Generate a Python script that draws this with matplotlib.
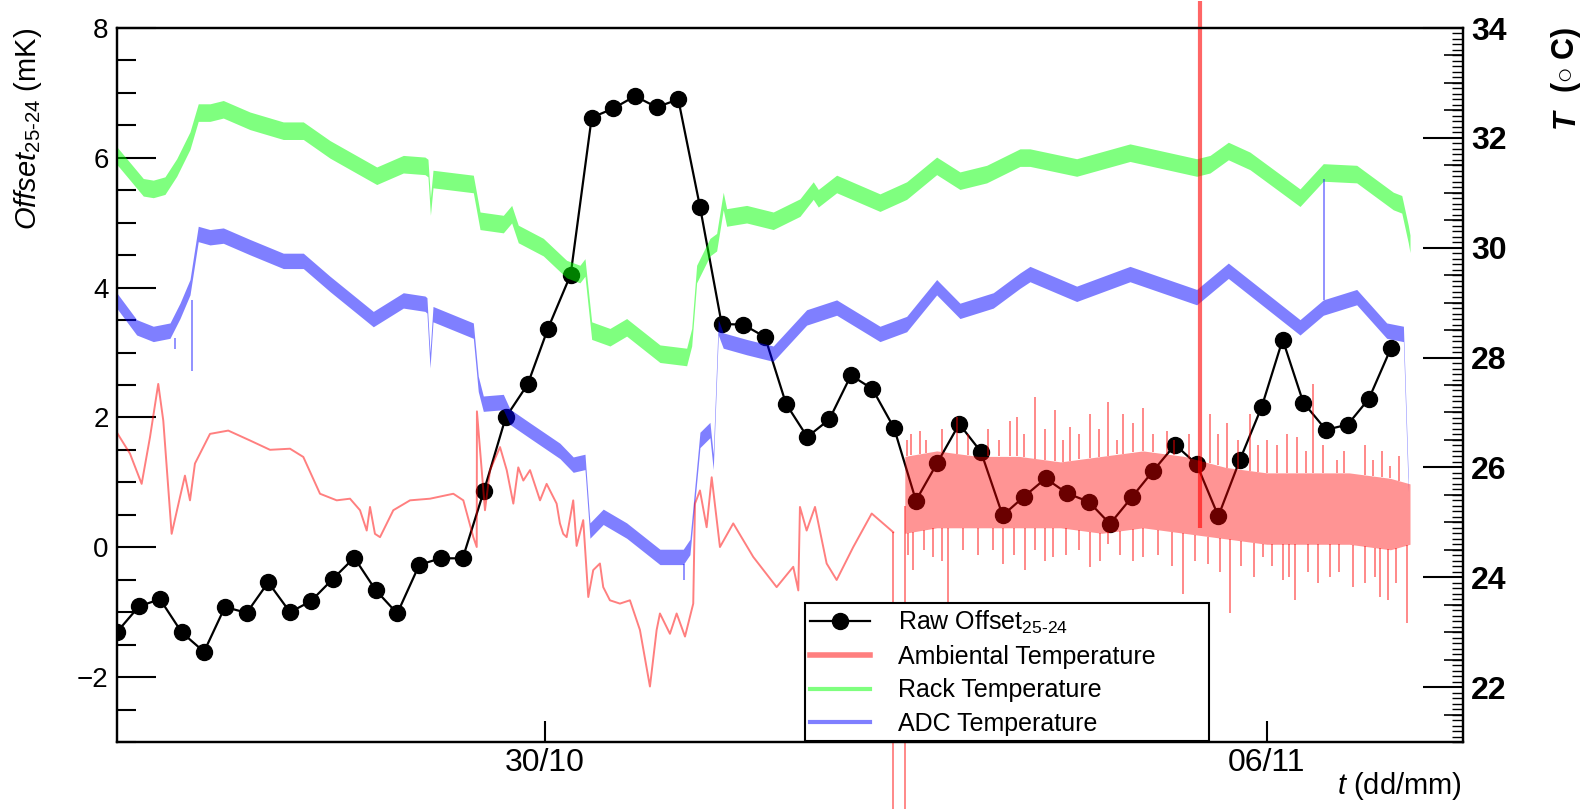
import numpy as np
import matplotlib
matplotlib.use("Agg")
import matplotlib.pyplot as plt
from matplotlib.lines import Line2D
from matplotlib.ticker import MultipleLocator, FixedLocator, NullLocator

plt.rcParams['font.family'] = ['Liberation Sans', 'DejaVu Sans']
plt.rcParams['mathtext.fontset'] = 'custom'
plt.rcParams['mathtext.rm'] = 'Liberation Sans'
plt.rcParams['mathtext.it'] = 'Liberation Sans:italic'
plt.rcParams['mathtext.bf'] = 'Liberation Sans:bold'

# time axis: days relative to 30/10 00:00
tick_days = [0, 7]
tick_labels = ["30/10", "06/11"]

# raw offset 25-24 (mK)
offset_t = [-4.148, -3.938, -3.734, -3.524, -3.307, -3.104, -2.893, -2.684, -2.473, -2.270,
            -2.059, -1.850, -1.642, -1.433, -1.219, -1.012, -0.798, -0.592, -0.381, -0.168,
            0.029, 0.249, 0.453, 0.662, 0.873, 1.083, 1.293, 1.503, 1.714, 1.923,
            2.134, 2.338, 2.544, 2.758, 2.968, 3.175, 3.385, 3.598, 3.805, 4.018,
            4.229, 4.439, 4.646, 4.856, 5.066, 5.276, 5.480, 5.691, 5.900, 6.111,
            6.321, 6.531, 6.741, 6.951, 7.155, 7.355, 7.575, 7.786, 7.992, 8.206]
offset_val = [-1.30, -0.91, -0.80, -1.31, -1.61, -0.92, -1.01, -0.54, -1.00, -0.83,
              -0.49, -0.16, -0.66, -1.02, -0.27, -0.17, -0.17, 0.87, 2.00, 2.51,
              3.37, 4.20, 6.62, 6.76, 6.95, 6.78, 6.90, 5.25, 3.44, 3.43,
              3.24, 2.21, 1.70, 1.97, 2.65, 2.44, 1.84, 0.72, 1.30, 1.90,
              1.47, 0.49, 0.78, 1.06, 0.83, 0.70, 0.36, 0.77, 1.18, 1.58,
              1.28, 0.48, 1.35, 2.16, 3.20, 2.23, 1.81, 1.89, 2.29, 3.07]

# rack temperature (deg C), centre of the noisy band
rack_t = [-4.154, -3.896, -3.799, -3.686, -3.572, -3.443, -3.363, -3.249, -3.120, -2.861,
          -2.538, -2.344, -2.085, -1.632, -1.374, -1.164, -1.135, -1.111, -1.086, -0.695,
          -0.630, -0.404, -0.323, -0.259, -0.016, 0.210, 0.339, 0.388, 0.453, 0.630,
          0.792, 1.115, 1.374, 1.423, 1.471, 1.600, 1.665, 1.729, 1.762, 1.956,
          2.214, 2.473, 2.602, 2.651, 2.829, 3.249, 3.508, 3.799, 4.025, 4.284,
          4.607, 4.704, 5.157, 5.674, 6.321, 6.450, 6.628, 6.838, 7.323, 7.549,
          7.873, 8.228, 8.310, 8.373, 8.390]
rack_T = [31.68, 31.10, 31.07, 31.13, 31.46, 31.95, 32.46, 32.46, 32.52, 32.31,
          32.13, 32.13, 31.79, 31.31, 31.52, 31.49, 31.45, 30.75, 31.25, 31.16,
          30.49, 30.43, 30.61, 30.25, 30.01, 29.61, 29.52, 29.64, 28.49, 28.37,
          28.55, 28.07, 28.01, 28.37, 29.52, 30.01, 30.10, 30.85, 30.55, 30.61,
          30.49, 30.73, 31.04, 30.90, 31.16, 30.82, 31.04, 31.49, 31.22, 31.34,
          31.64, 31.64, 31.46, 31.73, 31.46, 31.52, 31.76, 31.58, 30.91, 31.37,
          31.34, 30.85, 30.79, 30.25, 30.07]

# ADC temperature (deg C)
adc_t = [-4.154, -3.960, -3.799, -3.637, -3.540, -3.443, -3.363, -3.249, -3.120, -2.861,
         -2.538, -2.344, -2.085, -1.665, -1.374, -1.164, -1.145, -1.115, -1.086, -0.695,
         -0.647, -0.598, -0.404, -0.339, -0.145, 0.145, 0.274, 0.388, 0.436, 0.565,
         0.792, 1.115, 1.341, 1.406, 1.503, 1.600, 1.632, 1.681, 1.729, 1.956,
         2.214, 2.538, 2.829, 3.249, 3.508, 3.799, 4.025, 4.348, 4.607, 4.704,
         5.157, 5.674, 6.321, 6.628, 7.323, 7.549, 7.873, 8.164, 8.326, 8.373]
adc_T = [29.04, 28.55, 28.43, 28.49, 28.85, 29.28, 30.25, 30.19, 30.22, 30.01,
         29.76, 29.76, 29.34, 28.70, 29.04, 28.98, 28.95, 27.95, 28.79, 28.49,
         27.52, 27.16, 27.19, 26.92, 26.67, 26.30, 26.05, 26.10, 24.85, 25.10,
         24.85, 24.37, 24.37, 24.55, 26.50, 26.68, 26.10, 28.55, 28.31, 28.19,
         28.07, 28.73, 28.91, 28.43, 28.61, 29.28, 28.85, 29.04, 29.40, 29.52,
         29.16, 29.52, 29.10, 29.58, 28.55, 28.91, 29.10, 28.49, 28.43, 25.70]
# single-sample glitches: (time, from, to)
adc_spikes = [(-3.589, 28.35, 28.16), (-3.427, 29.05, 27.76), (1.348, 24.25, 23.95), (7.552, 29.05, 31.25)]

# ambiental temperature (deg C), smooth first part
amb_t = [-4.154, -4.025, -3.912, -3.831, -3.751, -3.702, -3.621, -3.540, -3.492, -3.443,
         -3.395, -3.249, -3.072, -2.861, -2.667, -2.473, -2.344, -2.182, -2.020, -1.891,
         -1.794, -1.729, -1.697, -1.649, -1.600, -1.471, -1.309, -1.115, -0.889, -0.792,
         -0.695, -0.662, -0.660, -0.582, -0.533, -0.436, -0.371, -0.307, -0.259, -0.210,
         -0.145, -0.048, 0.016, 0.113, 0.145, 0.177, 0.210, 0.274, 0.307, 0.371,
         0.420, 0.468, 0.533, 0.565, 0.630, 0.727, 0.824, 0.921, 1.018, 1.083,
         1.115, 1.212, 1.277, 1.358, 1.438, 1.455, 1.503, 1.568, 1.617, 1.697,
         1.826, 2.020, 2.247, 2.408, 2.457, 2.473, 2.538, 2.619, 2.732, 2.829,
         2.990, 3.169, 3.378]
amb_T = [26.64, 26.25, 25.70, 26.55, 27.52, 26.85, 24.79, 25.46, 25.85, 25.40,
         26.07, 26.61, 26.67, 26.49, 26.32, 26.34, 26.19, 25.52, 25.40, 25.43,
         25.22, 24.85, 25.28, 24.79, 24.73, 25.22, 25.40, 25.43, 25.52, 25.40,
         24.73, 24.55, 27.02, 25.22, 25.95, 26.37, 25.95, 25.34, 26.00, 25.76,
         25.95, 25.40, 25.70, 25.34, 24.98, 24.79, 24.73, 25.40, 24.57, 25.04,
         23.64, 24.13, 24.25, 23.82, 23.58, 23.52, 23.58, 23.04, 22.01, 23.04,
         23.34, 22.97, 23.34, 22.92, 23.52, 25.34, 25.58, 24.91, 25.82, 24.55,
         24.98, 24.37, 23.82, 24.19, 23.76, 25.28, 24.85, 25.28, 24.25, 23.95,
         24.55, 25.16, 24.82]
# noisy second part: core band limits and spikes
amb_band_t = [3.49, 3.8, 4.2, 4.6, 5.0, 5.4, 5.8, 6.2, 6.6, 7.0, 7.4, 7.8, 8.2, 8.39]
amb_band_hi = [26.2, 26.3, 26.2, 26.2, 26.1, 26.2, 26.3, 26.2, 26.0, 25.9, 25.9, 25.9, 25.8, 25.7]
amb_band_lo = [24.8, 24.9, 24.9, 24.9, 24.9, 24.8, 24.9, 24.8, 24.7, 24.6, 24.6, 24.6, 24.5, 24.6]
amb_up_t = [3.508, 3.55, 3.637, 3.70, 3.85, 3.993, 4.10, 4.30, 4.40, 4.510, 4.575, 4.65,
            4.753, 4.85, 4.947, 5.02, 5.092, 5.18, 5.286, 5.37, 5.464, 5.55, 5.609, 5.70,
            5.803, 5.90, 6.030, 6.10, 6.25, 6.450, 6.53, 6.612, 6.72, 6.838, 6.92, 7.000,
            7.10, 7.20, 7.291, 7.38, 7.452, 7.55, 7.679, 7.75, 7.95, 8.034, 8.12, 8.196, 8.28]
amb_up_T = [26.50, 26.60, 26.67, 26.50, 26.70, 26.92, 26.60, 26.70, 26.50, 26.85, 26.92, 26.60,
            27.28, 26.70, 27.04, 26.50, 26.73, 26.60, 26.97, 26.70, 27.19, 26.50, 26.97, 26.80,
            27.09, 26.60, 26.67, 26.50, 26.60, 26.97, 26.60, 26.80, 26.50, 26.97, 26.40, 26.50,
            26.40, 26.60, 26.56, 26.30, 27.52, 26.40, 26.14, 26.30, 26.40, 26.14, 26.30, 26.02, 26.20]
amb_dn_t = [3.52, 3.572, 3.68, 3.766, 3.85, 3.912, 4.05, 4.20, 4.35, 4.445, 4.55, 4.656,
            4.75, 4.85, 4.930, 5.05, 5.18, 5.286, 5.38, 5.464, 5.58, 5.70, 5.803, 5.95,
            6.08, 6.191, 6.30, 6.434, 6.55, 6.644, 6.75, 6.88, 6.967, 7.05, 7.161, 7.22,
            7.274, 7.40, 7.50, 7.614, 7.70, 7.840, 7.95, 8.05, 8.099, 8.179, 8.25, 8.358]
amb_dn_T = [24.40, 24.13, 24.50, 24.37, 24.30, 23.52, 24.50, 24.40, 24.50, 24.25, 24.40, 24.13,
            24.50, 24.30, 24.37, 24.40, 24.50, 24.19, 24.30, 24.61, 24.40, 24.30, 24.37, 24.40,
            24.20, 23.70, 24.30, 24.25, 24.10, 23.34, 24.20, 24.00, 24.37, 24.20, 23.95, 24.00,
            23.58, 24.10, 23.90, 24.00, 24.10, 23.82, 23.90, 24.00, 23.64, 23.58, 23.90, 23.16]
# readings far off scale: (time, from, to)
amb_offscale = [(3.38, 24.82, 19.0), (3.49, 25.3, 19.0)]
amb_glitch = (6.353, 24.9, 34.5)

fig = plt.figure(figsize=(15.91, 8.09), dpi=100)
ax = fig.add_axes([117/1591, 1-742/809, (1463-117)/1591, (742-28)/809])

ax.plot(offset_t, offset_val, color="black", lw=1.6, marker="o", ms=11.5)
ax.set_xlim(-4.151, 8.904)
ax.set_ylim(-3, 8)
ax.yaxis.set_major_locator(FixedLocator([-2, 0, 2, 4, 6, 8]))
ax.yaxis.set_minor_locator(MultipleLocator(0.5))
ax.tick_params(axis="y", which="major", direction="in", length=28, width=1.5,
               labelsize=20, pad=6, right=False)
ax.tick_params(axis="y", which="minor", direction="in", length=14, width=1.5, right=False)
ax.set_xticks(tick_days)
ax.set_xticklabels(tick_labels)
ax.xaxis.set_minor_locator(NullLocator())
ax.tick_params(axis="x", direction="in", length=15, width=1.5, labelsize=23, pad=4, top=False)

ax2 = ax.twinx()
ax2.set_ylim(21, 34)
red, green, blue = (1, 0, 0), (0, 1, 0), (0, 0, 1)
rack = np.array(rack_T)
ax2.fill_between(rack_t, rack - 0.16, rack + 0.16, color=green, alpha=0.5, lw=0)
adc = np.array(adc_T)
ax2.fill_between(adc_t, adc - 0.14, adc + 0.14, color=blue, alpha=0.5, lw=0)
for t, a, b in adc_spikes:
    ax2.vlines(t, a, b, color=blue, alpha=0.5, lw=1.2)

ax2.plot(amb_t, amb_T, color=red, alpha=0.5, lw=1.4)
ax2.fill_between(amb_band_t, amb_band_lo, amb_band_hi, color=red, alpha=0.42, lw=0)
ax2.vlines(amb_up_t, np.interp(amb_up_t, amb_band_t, amb_band_hi), amb_up_T,
           color=red, alpha=0.5, lw=1.3)
ax2.vlines(amb_dn_t, np.interp(amb_dn_t, amb_band_t, amb_band_lo), amb_dn_T,
           color=red, alpha=0.5, lw=1.3)
for t, a, b in amb_offscale:
    ax2.vlines(t, a, b, color=red, alpha=0.5, lw=1.3, clip_on=False)
ax2.vlines(amb_glitch[0], amb_glitch[1], amb_glitch[2], color=red, alpha=0.6, lw=3, clip_on=False)

ax2.yaxis.set_major_locator(FixedLocator([22, 24, 26, 28, 30, 32, 34]))
ax2.yaxis.set_minor_locator(MultipleLocator(0.1))
ax2.tick_params(axis="y", which="major", direction="in", length=29, width=1.5,
                labelsize=23, pad=6)
ax2.tick_params(axis="y", which="minor", direction="in", length=8, width=1)
for lbl in ax2.get_yticklabels():
    lbl.set_fontweight("bold")

# intermediate (half-degree) ticks of the temperature axis
ax3 = ax.twinx()
ax3.set_ylim(21, 34)
ax3.set_yticks([v for v in np.arange(21, 34.01, 0.5) if v % 2 != 0])
ax3.tick_params(axis="y", direction="in", length=14, width=1.2, labelright=False)
for s in ax3.spines.values():
    s.set_visible(False)

for a in (ax, ax2):
    for s in a.spines.values():
        s.set_linewidth(1.6)

fig.text(28/1591, 1-28/809, r"$\mathit{Offset}_{25\text{-}24}$ (mK)", rotation=90,
         rotation_mode="anchor", ha="right", va="center", fontsize=21)
fig.text(1462/1591, 1-786/809, r"$\mathit{t}$ (dd/mm)", ha="right", va="center", fontsize=21)
fig.text(1566/1591, 1-26/809, r"($\circ$ C)", rotation=90, rotation_mode="anchor",
         ha="right", va="center", fontsize=22, fontweight="bold")
fig.text(1566/1591, 1-128/809, "T", rotation=90, rotation_mode="anchor",
         ha="left", va="center", fontsize=22, fontweight="bold", style="italic")

handles = [Line2D([], [], color="black", lw=1.6, marker="o", ms=11.5),
           Line2D([], [], color=red, alpha=0.5, lw=4),
           Line2D([], [], color=green, alpha=0.5, lw=3),
           Line2D([], [], color=blue, alpha=0.5, lw=3)]
labels = [r"Raw Offset$_{25\text{-}24}$", "Ambiental Temperature", "Rack Temperature", "ADC Temperature"]
leg = fig.legend(handles, labels, loc="lower left",
                 bbox_to_anchor=(805/1591, 1-741/809, 404/1591, 134/809), mode="expand",
                 fontsize=18, handlelength=2.4, handletextpad=1.1, labelspacing=0.38,
                 borderaxespad=0, borderpad=0.2, fancybox=False, framealpha=1, edgecolor="black")
leg.get_frame().set_linewidth(1.5)

plt.savefig("out.png", dpi=100)
